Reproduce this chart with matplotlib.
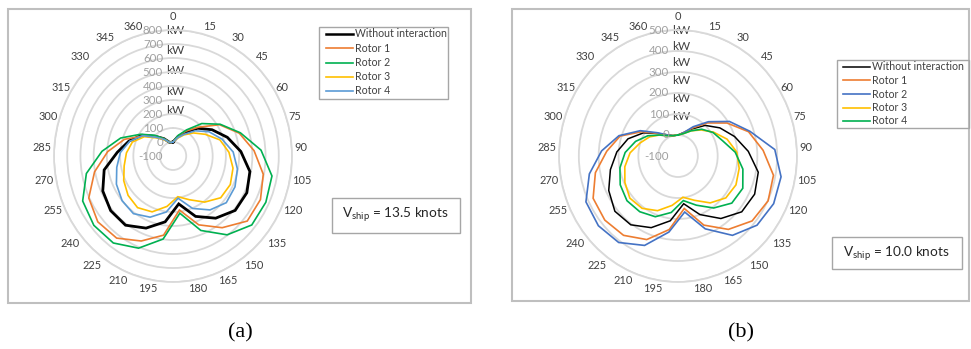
import numpy as np
import matplotlib
matplotlib.use('Agg')
import matplotlib.pyplot as plt
from matplotlib.patches import Rectangle
from matplotlib.transforms import offset_copy

plt.rcParams['font.family'] = ['Lato', 'DejaVu Sans']
plt.rcParams['mathtext.fontset'] = 'custom'
plt.rcParams['mathtext.rm'] = 'Lato'
plt.rcParams['mathtext.it'] = 'Lato:italic'

# ---------------- data ----------------
categories = ['0', '15', '30', '45', '60', '75', '90', '105', '120', '135', '150', '165',
              '180', '195', '210', '225', '240', '255', '270', '285', '300', '315', '330',
              '345', '360']

series_names = ['Without interaction', 'Rotor 1', 'Rotor 2', 'Rotor 3', 'Rotor 4']

# (a) V_ship = 13.5 knots
a_without = [0, 41, 92, 172, 250, 332, 414, 492, 517, 510, 449, 364, 245,
             374, 454, 511, 512, 487, 430, 322, 249, 177, 92, 41, 0]
a_rotor1 = [0, 46, 103, 183, 317, 427, 514, 595, 631, 629, 533, 429, 289,
            470, 553, 625, 638, 604, 504, 395, 286, 167, 93, 41, 0]
a_rotor2 = [0, 51, 113, 218, 323, 436, 567, 662, 676, 673, 596, 472, 312,
            498, 608, 668, 677, 655, 567, 438, 316, 190, 103, 41, 0]
a_rotor3 = [0, 30, 72, 126, 189, 273, 324, 362, 379, 368, 307, 236, 193,
            263, 329, 356, 341, 312, 276, 253, 223, 157, 77, 30, 0]
a_rotor4 = [0, 35, 78, 147, 223, 290, 356, 396, 418, 423, 376, 303, 204,
            303, 370, 409, 400, 373, 333, 299, 243, 171, 83, 35, 0]

# (b) V_ship = 10.0 knots
b_without = [0, 15, 47, 100, 150, 200, 255, 312, 327, 317, 268, 200, 129,
             211, 267, 305, 313, 286, 247, 209, 165, 106, 47, 15, 0]
b_rotor1 = [0, 15, 52, 116, 193, 274, 330, 390, 402, 385, 332, 254, 152,
            253, 328, 367, 379, 373, 324, 260, 207, 116, 47, 15, 0]
b_rotor2 = [0, 15, 59, 124, 207, 281, 389, 429, 433, 417, 367, 273, 169,
            265, 358, 409, 421, 413, 355, 286, 213, 125, 52, 15, 0]
b_rotor3 = [0, 10, 37, 70, 112, 160, 197, 214, 223, 213, 176, 127, 98,
            137, 180, 208, 215, 196, 173, 142, 101, 70, 37, 10, 0]
b_rotor4 = [0, 10, 37, 75, 109, 136, 189, 233, 261, 252, 206, 152, 114,
            171, 211, 228, 234, 222, 198, 167, 125, 80, 37, 10, 0]

a_rticks = [-100, 0, 100, 200, 300, 400, 500, 600, 700, 800]
b_rticks = [-100, 0, 100, 200, 300, 400, 500]

# ---------------- style ----------------
a_colors = ['#000000', '#ED7D31', '#00B050', '#FFC000', '#5B9BD5']
a_widths = [2.0, 1.2, 1.2, 1.2, 1.2]
b_colors = ['#000000', '#ED7D31', '#4472C4', '#FFC000', '#00B050']
b_widths = [1.1, 1.2, 1.2, 1.2, 1.2]

W, H = 971, 349
fig = plt.figure(figsize=(W / 100, H / 100), dpi=100)

ov = fig.add_axes([0, 0, 1, 1], zorder=0)
ov.set_xlim(0, W)
ov.set_ylim(H, 0)
ov.axis('off')

GRID = '#D9D9D9'
LBL = '#404040'


def radar(cx, cy, rx, ry, rticks, data, colors, widths, kw_y, num_dx, kw_dx):
    ax = fig.add_axes([(cx - rx) / W, (H - cy - ry) / H, 2 * rx / W, 2 * ry / H],
                      projection='polar', zorder=2)
    ax.set_aspect('auto')
    ax.patch.set_alpha(0)
    ax.set_theta_zero_location('N')
    ax.set_theta_direction(-1)
    rmin, rmax = rticks[0], rticks[-1]
    n = len(categories)
    theta = np.arange(n) * 2 * np.pi / n
    ax.set_ylim(rmin, rmax)
    ax.set_yticks(rticks[1:])
    ax.set_yticklabels([])
    ax.set_xticks([])
    ax.grid(True, axis='y', color=GRID, lw=1.3)
    ax.grid(False, axis='x')
    ax.spines['polar'].set_color(GRID)
    ax.spines['polar'].set_linewidth(1.3)
    lines = []
    for vals, c, lw in zip(data, colors, widths):
        v = list(vals) + [vals[0]]
        t = list(theta) + [theta[0]]
        ln, = ax.plot(t, v, color=c, lw=lw, solid_joinstyle='miter', zorder=3)
        lines.append(ln)
    # category labels, anchored by their nearest corner just outside the ring
    gap = 2.5
    for th, lab in zip(theta, categories):
        s, c = np.sin(th), np.cos(th)
        x = cx + (rx + gap) * s
        y = cy - (ry + gap) * c
        if abs(s) < 0.05:
            ha = 'center'
            y -= 6
        elif s > 0:
            ha = 'left'
        else:
            ha = 'right'
        if c > 0.6:
            va = 'bottom'
        elif c < -0.6:
            va = 'top'
        else:
            va = 'center'
        ov.text(x, y, lab, ha=ha, va=va, fontsize=7.9, color=LBL)
    # value labels
    tr = offset_copy(ax.transData, fig=fig, x=num_dx, y=0, units='dots')
    for r in rticks:
        ax.text(0, r, str(r), transform=tr, ha='right', va='center',
                fontsize=8.3, color='#A0A0A0', zorder=4)
    for y in kw_y:
        ov.text(cx + kw_dx, y, 'kW', ha='left', va='center', fontsize=8.5, color=LBL)
    return ax, lines


radar(173, 156, 119, 126, a_rticks,
      [a_without, a_rotor1, a_rotor2, a_rotor3, a_rotor4], a_colors, a_widths,
      [31, 50, 70.5, 91.5, 111], -10, -7)
radar(678, 156, 119, 126, b_rticks,
      [b_without, b_rotor1, b_rotor2, b_rotor3, b_rotor4], b_colors, b_widths,
      [30, 46, 63, 81, 99, 117], -9, -6)

# frames
ov.add_patch(Rectangle((8, 9), 463, 294, fill=False, ec='#BFBFBF', lw=1.5))
ov.add_patch(Rectangle((512, 9), 457, 292, fill=False, ec='#BFBFBF', lw=1.5))


def legend(x0, y0, w, h, rows, lx0, lx1, colors, widths):
    ov.add_patch(Rectangle((x0, y0), w, h, fill=False, ec='#A6A6A6', lw=1.0))
    for y, name, c, lw in zip(rows, series_names, colors, widths):
        ov.plot([lx0, lx1], [y, y], color=c, lw=lw)
        ov.text(lx1 + 2, y, name, ha='left', va='center', fontsize=7.6, color=LBL)


legend(319, 27, 129, 72, [33.7, 48.3, 62.7, 76.7, 90.7], 326, 353, a_colors,
       [1.8, 1.2, 1.2, 1.2, 1.2])
legend(837, 60, 132, 68, [66.7, 80.3, 94, 107.7, 121], 843, 870, b_colors,
       [1.1, 1.2, 1.2, 1.2, 1.2])

# speed boxes
ov.add_patch(Rectangle((332, 198), 128, 35, fill=False, ec='#A6A6A6', lw=1.0))
ov.text(342, 215, r'V$_{\mathrm{ship}}$ = 13.5 knots', ha='left', va='center',
        fontsize=9.8, color='#262626')
ov.add_patch(Rectangle((832, 237), 130, 32, fill=False, ec='#A6A6A6', lw=1.0))
ov.text(843, 254, r'V$_{\mathrm{ship}}$ = 10.0 knots', ha='left', va='center',
        fontsize=9.8, color='#262626')

# captions
ov.text(240, 333, '(a)', ha='center', va='center', fontsize=16,
        family='Liberation Serif', color='black')
ov.text(741, 333, '(b)', ha='center', va='center', fontsize=16,
        family='Liberation Serif', color='black')

fig.savefig('out.png', dpi=100)
